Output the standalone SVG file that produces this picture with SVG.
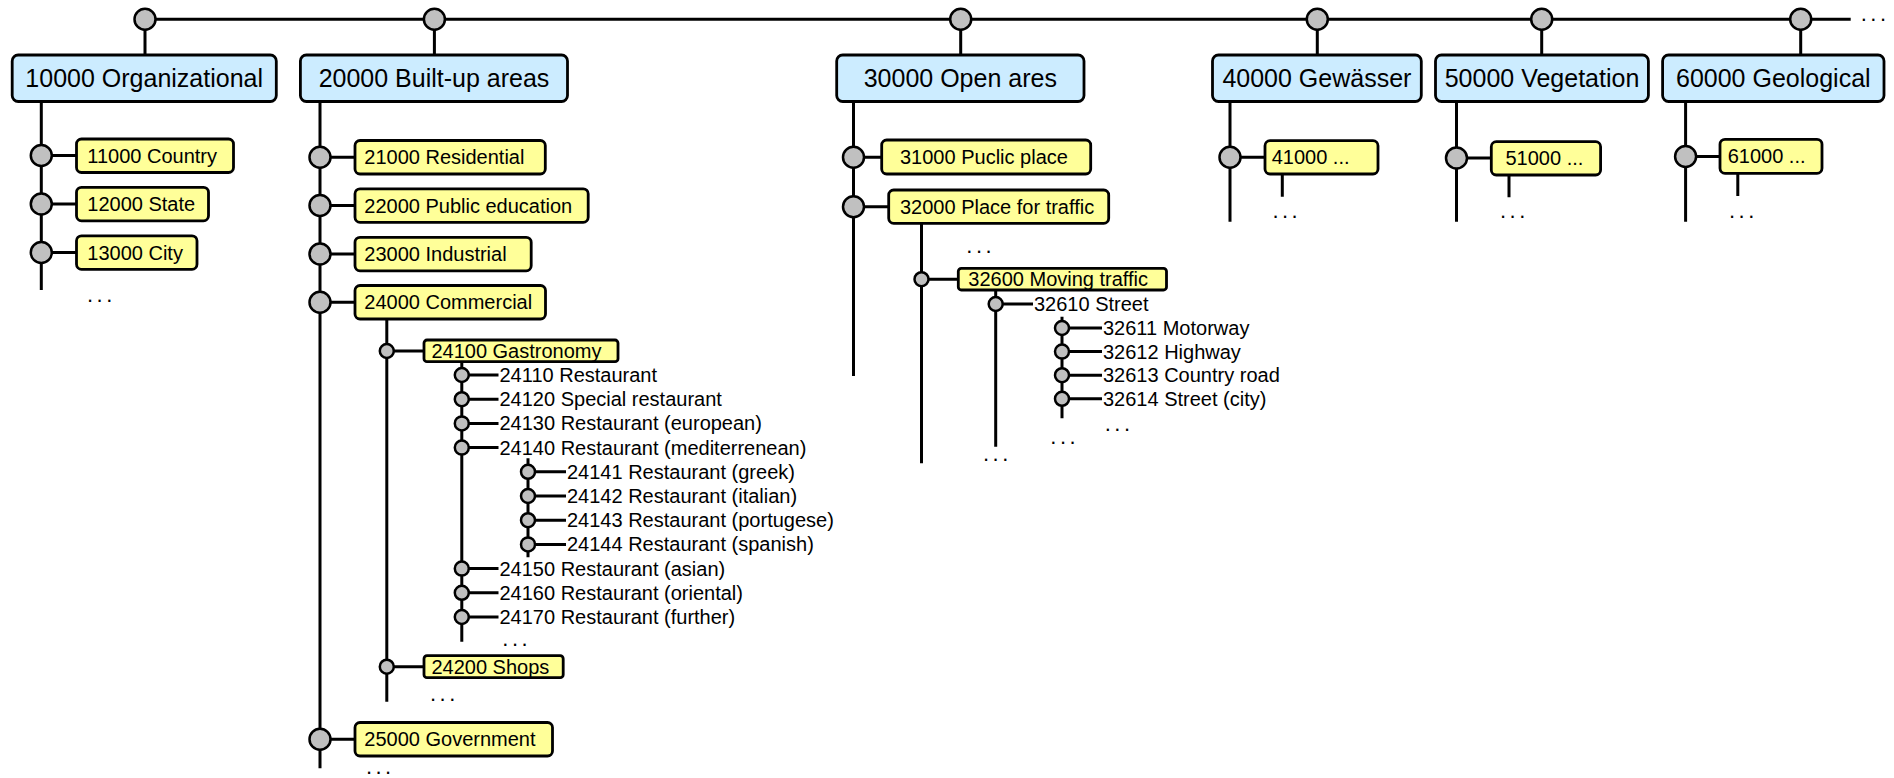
<svg xmlns="http://www.w3.org/2000/svg" width="1894" height="778" viewBox="0 0 1894 778">
<defs>
<style>
.ln{stroke:#000;stroke-width:3;fill:none}
.big{fill:#c0c0c0;stroke:#000;stroke-width:2.5}
.sm{fill:#c0c0c0;stroke:#000;stroke-width:2.5}
.blue{fill:#ccecff;stroke:#000;stroke-width:2.8}
.yel{fill:#ffff99;stroke:#000;stroke-width:2.8}
text{font-family:"Liberation Sans",Arial,sans-serif;fill:#000}
.t1{font-size:25px;text-anchor:middle}
.t2{font-size:20px}
.dots{font-size:22px;letter-spacing:3.5px}
</style>
</defs>
<rect width="1894" height="778" fill="#fff"/>
<g id="connectors">
<path class="ln" d="M145 19.3H1850.7"/>
<path class="ln" d="M145 19.3V55M434.4 19.3V55M960.7 19.3V55M1317.3 19.3V55M1541.7 19.3V55M1800.7 19.3V55"/>
<path class="ln" d="M41.3 101.5V290M41.3 155.5H76.5M41.3 204H76.5M41.3 252.5H76.5"/>
<path class="ln" d="M320 101.5V768.3M320 157.3H355M320 205.5H355M320 254H355M320 302.2H355M320 739.3H355"/>
<path class="ln" d="M386.8 319.3V701.7M386.8 351H424M386.8 666.7H424"/>
<path class="ln" d="M461.8 361.7V641.7M461.8 375H498.5M461.8 399.2H498.5M461.8 423.4H498.5M461.8 447.6H498.5M461.8 568.6H498.5M461.8 592.8H498.5M461.8 617H498.5"/>
<path class="ln" d="M528 458.3V557.3M528 471.8H566M528 496H566M528 520.2H566M528 544.4H566"/>
<path class="ln" d="M853.5 101.7V376M853.5 157.3H881.7M853.5 206.7H888.7"/>
<path class="ln" d="M921.5 223.3V463.3M921.5 279.2H958.3"/>
<path class="ln" d="M995.7 290V446.7M995.7 304H1033"/>
<path class="ln" d="M1062 316.7V418.3M1062 328H1102M1062 351.6H1102M1062 375.2H1102M1062 398.8H1102"/>
<path class="ln" d="M1230 101.7V221.7M1230 157.3H1265M1282.3 174V196.7"/>
<path class="ln" d="M1456.5 101.7V221.7M1456.5 158H1491.3M1509 175V197.3"/>
<path class="ln" d="M1685.6 101.7V221.7M1685.6 156.5H1720M1737.8 173.3V196"/>
<text class="dots" x="1860.7" y="21.3">...</text>
</g>

<g id="n10000">
<circle class="big" cx="145" cy="19.3" r="10.5"/>
<rect class="blue" x="12.2" y="55" width="264.1" height="46.5" rx="6"/>
<text class="t1" x="144.2" y="87">10000 Organizational</text>
</g>
<g id="n11000"><circle class="big" cx="41.3" cy="155.5" r="10.5"/><rect class="yel" x="76.5" y="139" width="157" height="33.5" rx="5"/><text class="t2" x="87.3" y="162.7">11000 Country</text></g>
<g id="n12000"><circle class="big" cx="41.3" cy="204" r="10.5"/><rect class="yel" x="76.5" y="187.3" width="132" height="33.5" rx="5"/><text class="t2" x="87.3" y="211.2">12000 State</text></g>
<g id="n13000"><circle class="big" cx="41.3" cy="252.5" r="10.5"/><rect class="yel" x="76.5" y="235.8" width="120.5" height="33.5" rx="5"/><text class="t2" x="87.3" y="259.5">13000 City</text></g>
<g id="n10000-more"><text class="dots" x="87" y="301.7">...</text></g>

<g id="n20000">
<circle class="big" cx="434.4" cy="19.3" r="10.5"/>
<rect class="blue" x="300.4" y="55" width="267.1" height="46.5" rx="6"/>
<text class="t1" x="434" y="87">20000 Built-up areas</text>
</g>
<g id="n21000"><circle class="big" cx="320" cy="157.3" r="10.5"/><rect class="yel" x="355" y="140.5" width="190.3" height="33.5" rx="5"/><text class="t2" x="364.3" y="164.3">21000 Residential</text></g>
<g id="n22000"><circle class="big" cx="320" cy="205.5" r="10.5"/><rect class="yel" x="355" y="188.8" width="233.2" height="33.5" rx="5"/><text class="t2" x="364.3" y="212.5">22000 Public education</text></g>
<g id="n23000"><circle class="big" cx="320" cy="254" r="10.5"/><rect class="yel" x="355" y="237.3" width="176.2" height="33.5" rx="5"/><text class="t2" x="364.3" y="261">23000 Industrial</text></g>
<g id="n24000"><circle class="big" cx="320" cy="302.2" r="10.5"/><rect class="yel" x="355" y="285.5" width="190.5" height="33.5" rx="5"/><text class="t2" x="364.3" y="309.2">24000 Commercial</text></g>
<g id="n24100"><circle class="sm" cx="386.8" cy="351" r="7"/><rect class="yel" x="424" y="340" width="194" height="21.7" rx="3"/><text class="t2" x="431.4" y="357.5">24100 Gastronomy</text></g>
<g id="n24110"><circle class="sm" cx="461.8" cy="375" r="7"/><text class="t2" x="499.5" y="382">24110 Restaurant</text></g>
<g id="n24120"><circle class="sm" cx="461.8" cy="399.2" r="7"/><text class="t2" x="499.5" y="406.2">24120 Special restaurant</text></g>
<g id="n24130"><circle class="sm" cx="461.8" cy="423.4" r="7"/><text class="t2" x="499.5" y="430.4">24130 Restaurant (european)</text></g>
<g id="n24140"><circle class="sm" cx="461.8" cy="447.6" r="7"/><text class="t2" x="499.5" y="454.6">24140 Restaurant (mediterrenean)</text></g>
<g id="n24141"><circle class="sm" cx="528" cy="471.8" r="7"/><text class="t2" x="567" y="478.8">24141 Restaurant (greek)</text></g>
<g id="n24142"><circle class="sm" cx="528" cy="496" r="7"/><text class="t2" x="567" y="503">24142 Restaurant (italian)</text></g>
<g id="n24143"><circle class="sm" cx="528" cy="520.2" r="7"/><text class="t2" x="567" y="527.2">24143 Restaurant (portugese)</text></g>
<g id="n24144"><circle class="sm" cx="528" cy="544.4" r="7"/><text class="t2" x="567" y="551.4">24144 Restaurant (spanish)</text></g>
<g id="n24150"><circle class="sm" cx="461.8" cy="568.6" r="7"/><text class="t2" x="499.5" y="575.6">24150 Restaurant (asian)</text></g>
<g id="n24160"><circle class="sm" cx="461.8" cy="592.8" r="7"/><text class="t2" x="499.5" y="599.8">24160 Restaurant (oriental)</text></g>
<g id="n24170"><circle class="sm" cx="461.8" cy="617" r="7"/><text class="t2" x="499.5" y="624">24170 Restaurant (further)</text></g>
<g id="n24100-more"><text class="dots" x="502.3" y="645.7">...</text></g>
<g id="n24200"><circle class="sm" cx="386.8" cy="666.7" r="7"/><rect class="yel" x="424" y="655.7" width="139.2" height="22" rx="3"/><text class="t2" x="431.4" y="673.5">24200 Shops</text></g>
<g id="n24000-more"><text class="dots" x="430" y="701.3">...</text></g>
<g id="n25000"><circle class="big" cx="320" cy="739.3" r="10.5"/><rect class="yel" x="355" y="722.5" width="197.5" height="33.5" rx="5"/><text class="t2" x="364.3" y="746.3">25000 Government</text></g>
<g id="n20000-more"><text class="dots" x="365.9" y="773.5">...</text></g>

<g id="n30000">
<circle class="big" cx="960.7" cy="19.3" r="10.5"/>
<rect class="blue" x="836.7" y="55" width="247.3" height="46.5" rx="6"/>
<text class="t1" x="960.3" y="87">30000 Open ares</text>
</g>
<g id="n31000"><circle class="big" cx="853.5" cy="157.3" r="10.5"/><rect class="yel" x="881.7" y="140" width="209" height="34" rx="5"/><text class="t2" x="900" y="164.3">31000 Puclic place</text></g>
<g id="n32000"><circle class="big" cx="853.5" cy="206.7" r="10.5"/><rect class="yel" x="888.7" y="190" width="220" height="33.3" rx="5"/><text class="t2" x="900" y="213.7">32000 Place for traffic</text></g>
<g id="n32000-more"><text class="dots" x="966.3" y="253">...</text></g>
<g id="n32600"><circle class="sm" cx="921.5" cy="279.2" r="7"/><rect class="yel" x="958.3" y="268.3" width="208.2" height="21.7" rx="3"/><text class="t2" x="968.3" y="285.9">32600 Moving traffic</text></g>
<g id="n32610"><circle class="sm" cx="995.7" cy="304" r="7"/><text class="t2" x="1034" y="311">32610 Street</text></g>
<g id="n32611"><circle class="sm" cx="1062" cy="328" r="7"/><text class="t2" x="1103" y="335">32611 Motorway</text></g>
<g id="n32612"><circle class="sm" cx="1062" cy="351.6" r="7"/><text class="t2" x="1103" y="358.6">32612 Highway</text></g>
<g id="n32613"><circle class="sm" cx="1062" cy="375.2" r="7"/><text class="t2" x="1103" y="382.2">32613 Country road</text></g>
<g id="n32614"><circle class="sm" cx="1062" cy="398.8" r="7"/><text class="t2" x="1103" y="405.8">32614 Street (city)</text></g>
<g id="n32610-more"><text class="dots" x="1104.7" y="431.3">...</text></g>
<g id="n32600-more"><text class="dots" x="1050.3" y="443.7">...</text></g>
<g id="n32000-more2"><text class="dots" x="983" y="461.3">...</text></g>

<g id="n40000">
<circle class="big" cx="1317.3" cy="19.3" r="10.5"/>
<rect class="blue" x="1212.5" y="55" width="208.8" height="46.5" rx="6"/>
<text class="t1" x="1316.9" y="87">40000 Gewässer</text>
</g>
<g id="n41000"><circle class="big" cx="1230" cy="157.3" r="10.5"/><rect class="yel" x="1265" y="140.7" width="113" height="33.3" rx="5"/><text class="t2" x="1271.7" y="164">41000 ...</text><text class="dots" x="1272.4" y="218">...</text></g>

<g id="n50000">
<circle class="big" cx="1541.7" cy="19.3" r="10.5"/>
<rect class="blue" x="1435.5" y="55" width="212.9" height="46.5" rx="6"/>
<text class="t1" x="1542" y="87">50000 Vegetation</text>
</g>
<g id="n51000"><circle class="big" cx="1456.5" cy="158" r="10.5"/><rect class="yel" x="1491.3" y="141.7" width="109.3" height="33.3" rx="5"/><text class="t2" x="1505.5" y="165">51000 ...</text><text class="dots" x="1500" y="218">...</text></g>

<g id="n60000">
<circle class="big" cx="1800.7" cy="19.3" r="10.5"/>
<rect class="blue" x="1662.6" y="55" width="221.4" height="46.5" rx="6"/>
<text class="t1" x="1773.3" y="87">60000 Geological</text>
</g>
<g id="n61000"><circle class="big" cx="1685.6" cy="156.5" r="10.5"/><rect class="yel" x="1720" y="139.3" width="102" height="34" rx="5"/><text class="t2" x="1727.7" y="163">61000 ...</text><text class="dots" x="1729" y="218">...</text></g>
</svg>
